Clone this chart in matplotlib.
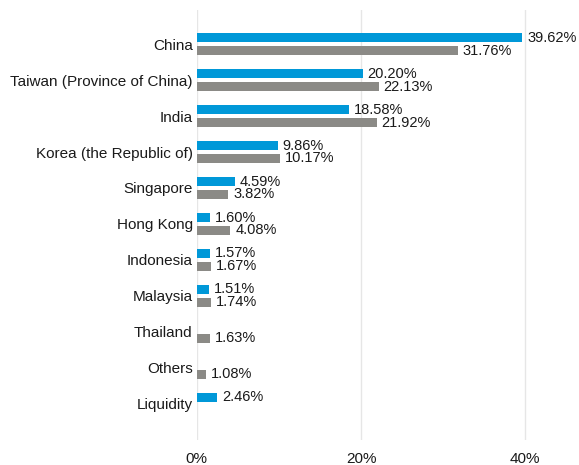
import numpy as np
import matplotlib.pyplot as plt

plt.rcParams['font.family'] = ['Liberation Sans', 'DejaVu Sans']

# categorias e valores (%)
categorias = ["China", "Taiwan (Province of China)", "India", "Korea (the Republic of)",
              "Singapore", "Hong Kong", "Indonesia", "Malaysia", "Thailand", "Others", "Liquidity"]
fundo = [39.62, 20.20, 18.58, 9.86, 4.59, 1.60, 1.57, 1.51, None, None, 2.46]
indice = [31.76, 22.13, 21.92, 10.17, 3.82, 4.08, 1.67, 1.74, 1.63, 1.08, None]
ticks_x = [0, 20, 40]

cor_azul = '#0098D8'
cor_cinza = '#8B8A86'

fig = plt.figure(figsize=(5.79, 4.65), dpi=100)
ax = fig.add_axes([0.340, 0.054, 0.638, 0.924])

y = np.arange(len(categorias))
h = 0.26
off = 0.18

for i, v in enumerate(fundo):
    if v is None:
        continue
    ax.barh(y[i] - off, v, height=h, color=cor_azul, zorder=3)
    ax.text(v + 0.6, y[i] - off, f"{v:.2f}%", va='center', ha='left', fontsize=10.5, color='#1a1a1a')

for i, v in enumerate(indice):
    if v is None:
        continue
    ax.barh(y[i] + off, v, height=h, color=cor_cinza, zorder=3)
    ax.text(v + 0.6, y[i] + off, f"{v:.2f}%", va='center', ha='left', fontsize=10.5, color='#1a1a1a')

ax.set_yticks(y)
ax.set_yticklabels(categorias, fontsize=11, color='#1a1a1a')
ax.set_ylim(11.0, -0.94)
ax.set_xlim(0, 45)
ax.set_xticks(ticks_x)
ax.set_xticklabels([f"{t}%" for t in ticks_x], fontsize=11, color='#1a1a1a')
ax.tick_params(axis='both', length=0)
ax.tick_params(axis='x', pad=8.5)
ax.tick_params(axis='y', pad=3)

ax.grid(axis='x', color='#E6E6E6', linewidth=1, zorder=0)
for s in ax.spines.values():
    s.set_visible(False)

fig.savefig("out.png", dpi=100)
